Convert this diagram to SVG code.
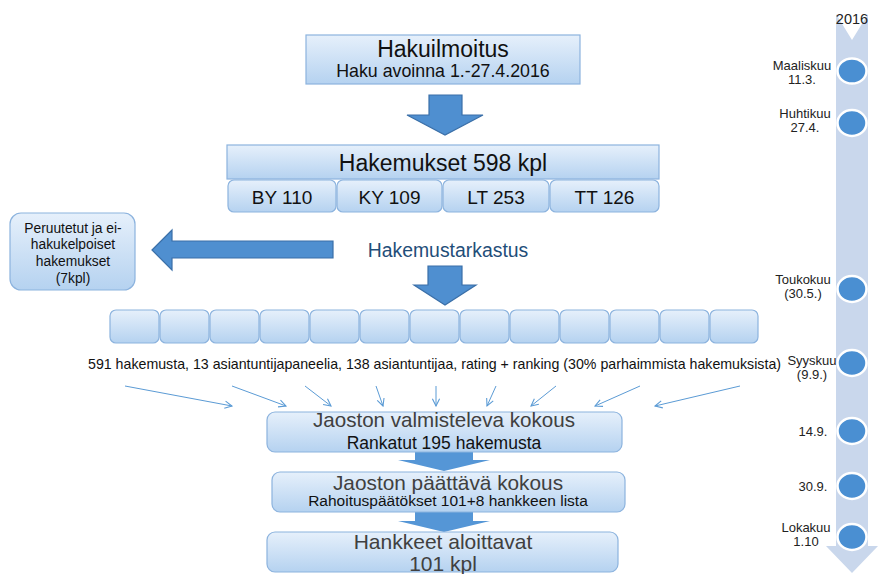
<svg xmlns="http://www.w3.org/2000/svg" width="880" height="574" viewBox="0 0 880 574">
<defs>
<linearGradient id="g" x1="0" y1="0" x2="0" y2="1">
<stop offset="0" stop-color="#e6f0fb"/>
<stop offset="1" stop-color="#b5d2f0"/>
</linearGradient>
<marker id="ah" viewBox="0 0 10 10" refX="9" refY="5" markerWidth="9" markerHeight="9" orient="auto" markerUnits="userSpaceOnUse">
<path d="M1,1 L9,5 L1,9" fill="none" stroke="#5b9bd5" stroke-width="1.2"/>
</marker>
</defs>
<style>
text{font-family:"Liberation Sans",Arial,sans-serif;}
.box{fill:url(#g);stroke:#8cb3de;stroke-width:1.2;}
.big{fill:#4f8fd0;stroke:#3a6fa8;stroke-width:1.2;}
.flat{fill:#5596d6;}
.thin{stroke:#5b9bd5;stroke-width:1;fill:none;marker-end:url(#ah);}
.dot{fill:#4a8fd2;stroke:#ffffff;stroke-width:2.5;}
.tl{font-size:13px;fill:#222;text-anchor:middle;}
.c{text-anchor:middle;}
.gray{fill:#404040;}
</style>
<rect width="880" height="574" fill="#ffffff"/>

<g id="timeline">
<polygon points="836,14 852,40 868,14 868,546 878,546 852,573 826,546 836,546" fill="#c9d7ec"/>
<text x="852" y="24" class="c" font-size="14.5" fill="#222">2016</text>
<ellipse class="dot" cx="852" cy="71" rx="14.5" ry="12.5"/>
<ellipse class="dot" cx="852" cy="123" rx="14.5" ry="13"/>
<ellipse class="dot" cx="852" cy="289" rx="14.5" ry="13"/>
<ellipse class="dot" cx="852" cy="363" rx="14.5" ry="13"/>
<ellipse class="dot" cx="852" cy="431" rx="14.5" ry="13"/>
<ellipse class="dot" cx="852" cy="486" rx="14.5" ry="13"/>
<ellipse class="dot" cx="852" cy="537" rx="14.5" ry="13"/>
<text class="tl" x="802" y="70">Maaliskuu</text>
<text class="tl" x="802" y="84">11.3.</text>
<text class="tl" x="805" y="118">Huhtikuu</text>
<text class="tl" x="805" y="132">27.4.</text>
<text class="tl" x="803" y="284">Toukokuu</text>
<text class="tl" x="803" y="298">(30.5.)</text>
<text class="tl" x="812" y="365">Syyskuu</text>
<text class="tl" x="812" y="379">(9.9.)</text>
<text class="tl" x="813" y="436">14.9.</text>
<text class="tl" x="813" y="491">30.9.</text>
<text class="tl" x="806" y="532">Lokakuu</text>
<text class="tl" x="806" y="546">1.10</text>
</g>

<g id="connectors">
<polygon class="big" points="429,95 462,95 462,115 483,115 445,135 407,115 429,115"/>
<polygon class="big" points="152,250 172,230 172,241 333,241 333,258 172,258 172,270"/>
<polygon class="big" points="428,266 462,266 462,285 476,285 445,305 414,285 428,285"/>
<line class="thin" x1="125" y1="386" x2="232" y2="406"/>
<line class="thin" x1="232" y1="386" x2="286" y2="406"/>
<line class="thin" x1="305" y1="386" x2="331" y2="406"/>
<line class="thin" x1="376" y1="386" x2="383" y2="406"/>
<line class="thin" x1="436" y1="386" x2="436" y2="406"/>
<line class="thin" x1="496" y1="386" x2="487" y2="406"/>
<line class="thin" x1="556" y1="386" x2="531" y2="406"/>
<line class="thin" x1="640" y1="386" x2="595" y2="406"/>
<line class="thin" x1="740" y1="386" x2="655" y2="406"/>
<polygon class="flat" points="415,452 473,452 473,460 490,460 444,471 398,460 415,460"/>
<polygon class="flat" points="415,512 473,512 473,521 490,521 444,532 398,521 415,521"/>
</g>

<g id="hakuilmoitus">
<rect class="box" x="306" y="35" width="274" height="49"/>
<text x="443" y="57" class="c" font-size="23" fill="#111">Hakuilmoitus</text>
<text x="443" y="77" class="c" font-size="17.8" fill="#111">Haku avoinna 1.-27.4.2016</text>
</g>

<g id="hakemukset">
<rect class="box" x="227" y="145" width="432" height="34"/>
<text x="443" y="171" class="c" font-size="23" fill="#111">Hakemukset 598 kpl</text>
</g>
<g id="by"><rect class="box" x="228" y="180" width="108" height="32" rx="6"/><text x="282" y="204" class="c" font-size="19" fill="#111">BY 110</text></g>
<g id="ky"><rect class="box" x="337" y="180" width="105" height="32" rx="6"/><text x="389.5" y="204" class="c" font-size="19" fill="#111">KY 109</text></g>
<g id="lt"><rect class="box" x="443" y="180" width="106" height="32" rx="6"/><text x="496" y="204" class="c" font-size="19" fill="#111">LT 253</text></g>
<g id="tt"><rect class="box" x="550" y="180" width="109" height="32" rx="6"/><text x="604.5" y="204" class="c" font-size="19" fill="#111">TT 126</text></g>

<g id="peruutetut">
<rect class="box" x="10" y="213" width="125" height="77" rx="11"/>
<text class="c" font-size="13.8" fill="#111" x="73"><tspan x="73" y="233">Peruutetut ja ei-</tspan><tspan x="73" y="249">hakukelpoiset</tspan><tspan x="73" y="266">hakemukset</tspan><tspan x="73" y="283">(7kpl)</tspan></text>
</g>

<g id="hakemustarkastus">
<text x="448" y="257" class="c" font-size="19.4" fill="#1f4e79">Hakemustarkastus</text>
</g>

<g id="paneelit">
<rect class="box" x="110" y="310" width="49" height="33" rx="6"/>
<rect class="box" x="160" y="310" width="49" height="33" rx="6"/>
<rect class="box" x="210" y="310" width="49" height="33" rx="6"/>
<rect class="box" x="260" y="310" width="49" height="33" rx="6"/>
<rect class="box" x="310" y="310" width="49" height="33" rx="6"/>
<rect class="box" x="360" y="310" width="49" height="33" rx="6"/>
<rect class="box" x="410" y="310" width="49" height="33" rx="6"/>
<rect class="box" x="460" y="310" width="49" height="33" rx="6"/>
<rect class="box" x="510" y="310" width="49" height="33" rx="6"/>
<rect class="box" x="560" y="310" width="49" height="33" rx="6"/>
<rect class="box" x="610" y="310" width="49" height="33" rx="6"/>
<rect class="box" x="660" y="310" width="49" height="33" rx="6"/>
<rect class="box" x="710" y="310" width="48" height="33" rx="6"/>
<text x="88" y="369" font-size="14.2" fill="#111" textLength="693" lengthAdjust="spacingAndGlyphs">591 hakemusta, 13 asiantuntijapaneelia, 138 asiantuntijaa, rating + ranking (30% parhaimmista hakemuksista)</text>
</g>

<g id="valmisteleva">
<rect class="box" x="267" y="412" width="355" height="40" rx="8"/>
<text x="444" y="427" class="c gray" font-size="20.6">Jaoston valmisteleva kokous</text>
<text x="444" y="449" class="c" font-size="17.5" fill="#111">Rankatut 195 hakemusta</text>
</g>

<g id="paattava">
<rect class="box" x="272" y="472" width="353" height="40" rx="8"/>
<text x="448" y="490" class="c gray" font-size="20.8">Jaoston päättävä kokous</text>
<text x="448" y="506" class="c" font-size="15.5" fill="#111">Rahoituspäätökset 101+8 hankkeen lista</text>
</g>

<g id="aloittavat">
<rect class="box" x="267" y="532" width="351" height="40" rx="8"/>
<text x="443" y="549" class="c gray" font-size="21">Hankkeet aloittavat</text>
<text x="443" y="571" class="c gray" font-size="21">101 kpl</text>
</g>
</svg>
